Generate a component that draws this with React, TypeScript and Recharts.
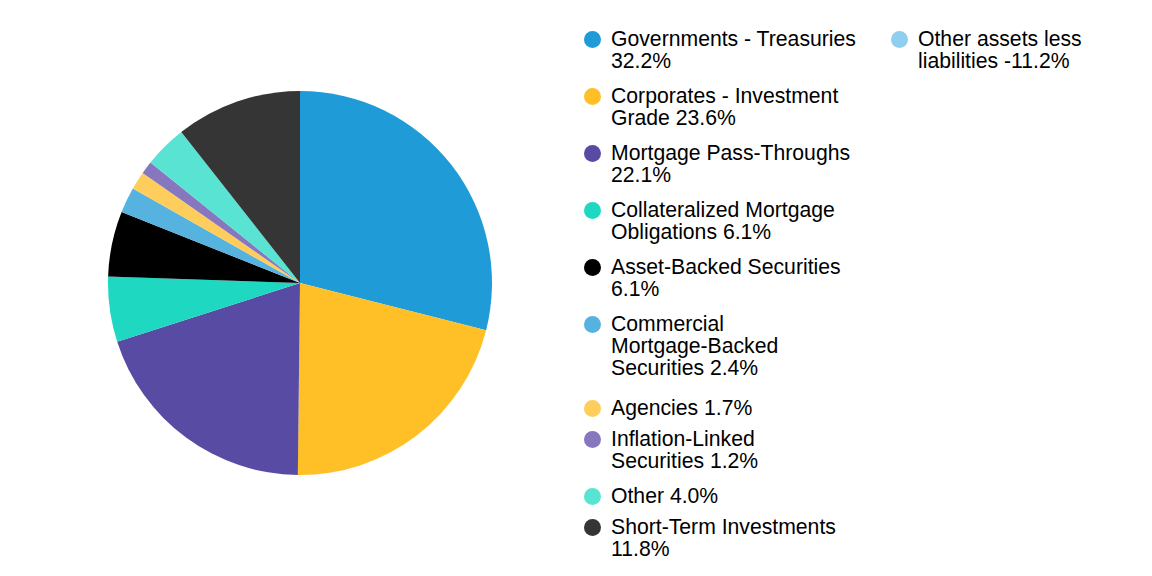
import React from "react";
import { PieChart, Pie, Cell, Legend } from "recharts";

const categories = [
  "Governments - Treasuries",
  "Corporates - Investment Grade",
  "Mortgage Pass-Throughs",
  "Collateralized Mortgage Obligations",
  "Asset-Backed Securities",
  "Commercial Mortgage-Backed Securities",
  "Agencies",
  "Inflation-Linked Securities",
  "Other",
  "Short-Term Investments",
  "Other assets less liabilities",
];

const values = [32.2, 23.6, 22.1, 6.1, 6.1, 2.4, 1.7, 1.2, 4.0, 11.8, -11.2];

const colors = [
  "#1f9bd7",
  "#ffbf27",
  "#584ba4",
  "#1ed8c1",
  "#000000",
  "#56b3df",
  "#ffcd5b",
  "#8677bf",
  "#58e3d2",
  "#353535",
  "#8ecfef",
];

// legend text as it wraps in the original
const legendText = [
  "Governments - Treasuries\n32.2%",
  "Corporates - Investment\nGrade 23.6%",
  "Mortgage Pass-Throughs\n22.1%",
  "Collateralized Mortgage\nObligations 6.1%",
  "Asset-Backed Securities\n6.1%",
  "Commercial\nMortgage-Backed\nSecurities 2.4%",
  "Agencies 1.7%",
  "Inflation-Linked\nSecurities 1.2%",
  "Other 4.0%",
  "Short-Term Investments\n11.8%",
  "Other assets less\nliabilities -11.2%",
];

const itemsInFirstColumn = 10;

// space under an item, by number of text lines
const itemGap = [0, 9, 13, 18];

const pieData = categories
  .map((name, i) => ({ name, value: values[i], color: colors[i] }))
  .filter((d) => d.value > 0);

const LegendItem = ({ idx }: { idx: number }) => {
  const lines = legendText[idx].split("\n");
  return (
    <div style={{ display: "flex", paddingBottom: itemGap[lines.length] }}>
      <div
        style={{
          width: 17,
          height: 17,
          borderRadius: "50%",
          background: colors[idx],
          marginTop: 3,
          marginRight: 10,
          flexShrink: 0,
        }}
      />
      <div>
        {lines.map((l, j) => (
          <div key={j} style={{ height: 22, lineHeight: "22px", whiteSpace: "nowrap" }}>
            {l}
          </div>
        ))}
      </div>
    </div>
  );
};

const renderLegend = () => {
  const col1 = legendText.slice(0, itemsInFirstColumn).map((_, i) => i);
  const col2 = legendText.slice(itemsInFirstColumn).map((_, i) => i + itemsInFirstColumn);
  return (
    <div
      style={{
        display: "flex",
        fontFamily: "'Liberation Sans', Arial, sans-serif",
        fontSize: 21.2,
        color: "#000",
      }}
    >
      <div style={{ width: 307 }}>
        {col1.map((i) => (
          <LegendItem key={i} idx={i} />
        ))}
      </div>
      <div style={{ width: 250 }}>
        {col2.map((i) => (
          <LegendItem key={i} idx={i} />
        ))}
      </div>
    </div>
  );
};

export default function App() {
  return (
    <div style={{ position: "absolute", left: 0, top: 0, width: 1152, height: 576, background: "#fff" }}>
      <PieChart width={1152} height={576} margin={{ top: 0, right: 0, bottom: 0, left: 0 }}>
        <Pie
          data={pieData}
          dataKey="value"
          nameKey="name"
          cx={300}
          cy={283}
          outerRadius={192}
          startAngle={90}
          endAngle={-270}
          stroke="none"
          isAnimationActive={false}
        >
          {pieData.map((d, i) => (
            <Cell key={`cell-${i}`} fill={d.color} />
          ))}
        </Pie>
        <Legend
          content={renderLegend}
          layout="vertical"
          align="right"
          verticalAlign="top"
          wrapperStyle={{ left: 584, top: 27.5, width: 560 }}
        />
      </PieChart>
    </div>
  );
}
